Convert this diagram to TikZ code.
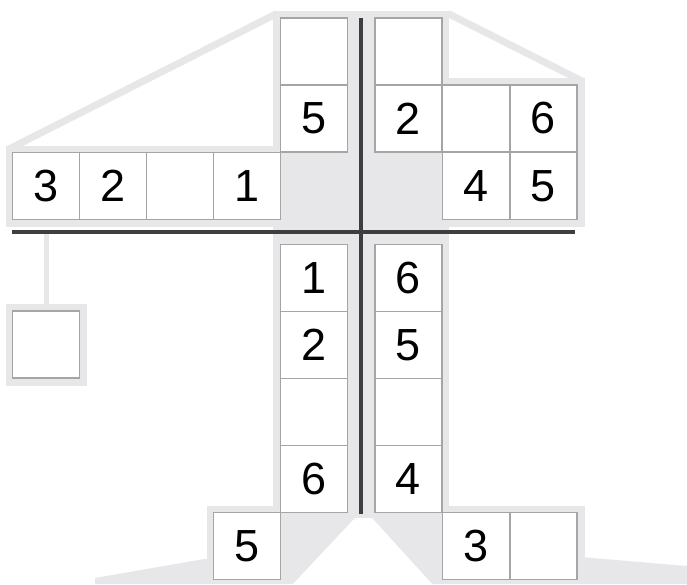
\documentclass[tikz,border=0pt]{standalone}
\usepackage{fontspec}
\setmainfont{Liberation Sans}
\definecolor{halo}{RGB}{231,231,233}
\definecolor{cellline}{RGB}{165,165,165}
\definecolor{beam}{RGB}{62,62,62}
\begin{document}
\begin{tikzpicture}[x=1pt,y=-1pt,
  cell/.style={draw=cellline, fill=white, line width=1.5pt, minimum size=67pt,
               inner sep=0pt, font=\fontsize{45}{54}\selectfont},
  haloshape/.style={fill=halo, draw=none},
  tie/.style={draw=halo, line width=7pt},
  hookline/.style={draw=halo, line width=5pt},
  beamline/.style={draw=beam, line width=3.5pt}]
\path[use as bounding box, fill=white] (0,0) rectangle (687,584);
\clip (0,0) rectangle (687,584);

% grey silhouette
\fill[halo] (95,584) -- (95,578) -- (210,558) -- (210,515) -- (580,515)
  -- (580,557) -- (687,566) -- (687,584) -- cycle;
\path[haloshape] (273,11) rectangle (449,520);
\path[haloshape] (5.5,145.5) rectangle (287,226.5);
\path[haloshape] (435,78) rectangle (584.5,226.5);
\path[haloshape] (206.5,505.5) rectangle (288,584);
\path[haloshape] (435,505.5) rectangle (584.5,584);
\path[haloshape] (5.5,304) rectangle (86.5,385.5);
\coordinate (rl1) at (9,149);
\coordinate (rl2) at (277,13.5);
\coordinate (rr1) at (448,13.5);
\coordinate (rr2) at (582,81);
\draw[tie] (rl1) -- (rl2);
\draw[tie] (rr1) -- (rr2);
\fill[white] (292,585) -- (355,518) -- (372,518) -- (433,585) -- cycle;

% cells
\node[cell] (L1) at (46,186) {3};
\node[cell] (L2) at (113,186) {2};
\node[cell] (L3) at (180,186) {};
\node[cell] (L4) at (247,186) {1};
\node[cell] (TL1) at (314,51.5) {};
\node[cell] (TL2) at (314,118.5) {5};
\node[cell] (TR1) at (408.5,51.5) {};
\node[cell] (TR2) at (408.5,118.5) {2};
\node[cell] (R1) at (476,118.5) {};
\node[cell] (R2) at (543.5,118.5) {6};
\node[cell] (R3) at (476,186) {4};
\node[cell] (R4) at (543.5,186) {5};
\node[cell] (D1) at (314,278) {1};
\node[cell] (D2) at (314,345) {2};
\node[cell] (D3) at (314,412) {};
\node[cell] (D4) at (314,479) {6};
\node[cell] (E1) at (408.5,278) {6};
\node[cell] (E2) at (408.5,345) {5};
\node[cell] (E3) at (408.5,412) {};
\node[cell] (E4) at (408.5,479) {4};
\node[cell] (B1) at (247,546) {5};
\node[cell] (B2) at (476,546) {3};
\node[cell] (B3) at (543.5,546) {};
\node[cell] (H) at (46,344.5) {};

% hook rope and beams
\coordinate (hl) at (12,232);
\coordinate (hr) at (575,232);
\coordinate (vt) at (361,18);
\coordinate (vb) at (361,514);
\coordinate (hook) at (46,232);
\draw[hookline] (hook) -- (H.north);
\draw[beamline] (hl) -- (hr);
\draw[beamline] (vt) -- (vb);
\end{tikzpicture}
\end{document}
